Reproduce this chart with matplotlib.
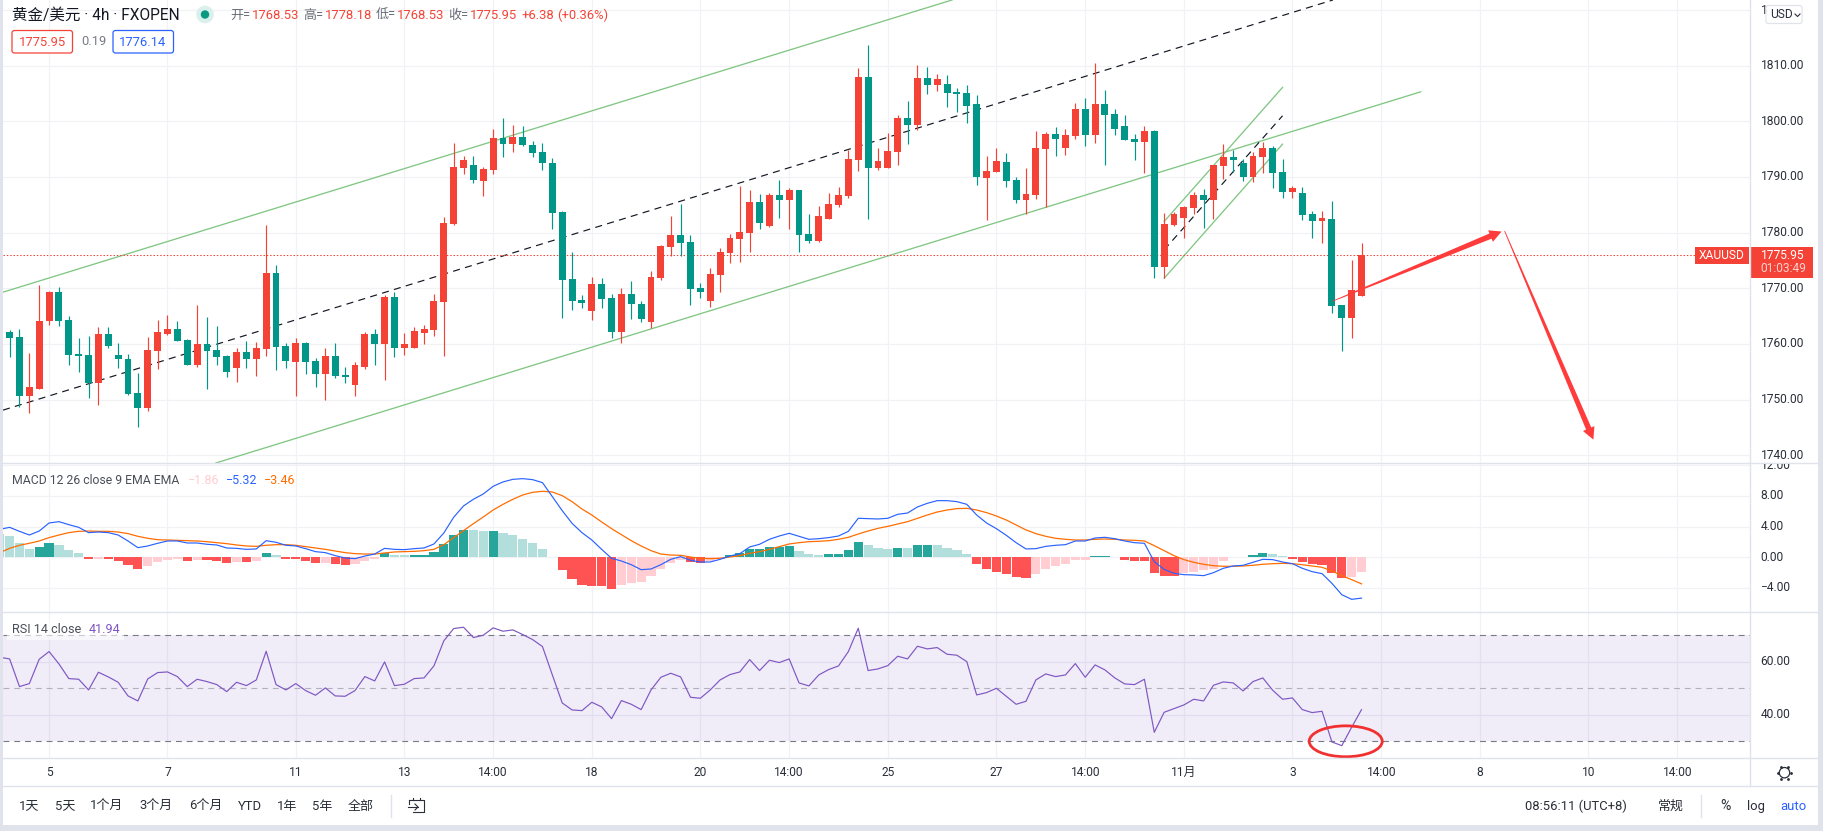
import matplotlib
matplotlib.use('Agg')
import matplotlib.patches as mpatches
import matplotlib.pyplot as plt
from matplotlib.transforms import Bbox, IdentityTransform
import numpy as np

plt.rcParams['font.family'] = ['Roboto', 'Noto Sans CJK SC', 'DejaVu Sans']

W, H = 1823, 831

# 4h candles
opens = [1761.25,1762.09,1761.2,1750.6,1751.85,1764.05,1769.3,1764.25,1758.1,1757.95,
         1752.9,1761.75,1757.95,1757.25,1751.1,1748.4,1758.65,1761.85,1762.65,1760.65,
         1756.3,1759.95,1758.85,1757.75,1755.6,1758.5,1757.25,1759.05,1772.7,1759.55,
         1756.7,1760.1,1756.9,1754.55,1757.75,1754.35,1752.7,1755.8,1761.75,1759.95,
         1768.4,1759.2,1759.2,1761.9,1762.45,1767.5,1781.55,1791.6,1792.15,1789.25,
         1791.25,1797.0,1795.9,1797.2,1795.75,1794.5,1792.5,1783.7,1771.65,1767.85,
         1765.85,1770.75,1768.2,1762.1,1768.95,1767.15,1763.9,1771.8,1777.4,1779.55,
         1778.3,1770.0,1767.65,1772.35,1776.3,1778.85,1779.9,1785.5,1781.15,1786.75,
         1785.85,1787.65,1779.75,1778.45,1782.45,1784.95,1786.55,1793.05,1808.0,1791.6,
         1791.6,1794.5,1800.6,1799.35,1807.8,1806.55,1806.75,1805.3,1805.1,1803.15,
         1789.8,1790.9,1792.7,1789.45,1785.85,1786.75,1795.05,1797.75,1795.2,1797.35,
         1802.25,1797.55,1803.15,1801.3,1799.15,1796.85,1796.3,1798.25,1773.8,1781.35,
         1782.6,1784.45,1786.75,1785.85,1792.0,1793.6,1792.5,1790.0,1793.6,1795.2,
         1790.9,1787.3,1787.1,1783.35,1782.05,1782.45,1766.95,1764.6,1768.53]
highs = [1762.15,1762.45,1762.6,1758.4,1770.55,1769.5,1770.2,1765.0,1761.0,1761.35,
         1763.0,1763.0,1760.1,1758.1,1754.7,1761.2,1764.25,1765.15,1764.05,1760.85,
         1766.95,1764.8,1763.15,1757.95,1759.2,1760.45,1760.3,1781.35,1774.15,1760.1,
         1761.0,1760.3,1757.4,1759.2,1760.1,1755.8,1756.7,1762.1,1762.65,1768.75,
         1769.3,1761.9,1763.0,1763.35,1768.95,1782.8,1796.1,1793.75,1793.75,1791.8,
         1798.65,1800.6,1799.35,1799.15,1796.45,1796.1,1793.4,1783.85,1776.5,1768.75,
         1772.0,1771.8,1768.95,1770.0,1771.25,1767.65,1773.05,1777.75,1782.95,1785.1,
         1779.55,1770.9,1773.6,1777.2,1779.75,1788.35,1787.65,1786.9,1787.1,1789.45,
         1788.0,1787.65,1783.35,1784.75,1787.1,1788.2,1794.85,1809.6,1813.75,1795.2,
         1797.9,1801.15,1803.7,1810.15,1809.8,1808.55,1808.35,1806.0,1806.55,1804.75,
         1793.75,1795.2,1794.3,1790.0,1791.6,1798.25,1798.1,1799.0,1798.65,1803.3,
         1804.2,1810.5,1805.65,1802.25,1801.15,1797.75,1799.15,1798.45,1783.5,1783.7,
         1784.75,1787.3,1787.85,1792.15,1795.9,1794.85,1793.25,1794.5,1796.3,1795.55,
         1793.25,1788.35,1788.2,1783.85,1783.85,1785.65,1766.95,1775.0,1778.18]
lows = [1761.25,1757.65,1748.65,1747.6,1751.85,1763.35,1763.2,1756.15,1754.9,1750.2,
        1748.95,1759.2,1755.6,1750.75,1745.15,1747.9,1755.45,1761.55,1760.45,1756.3,
        1755.85,1751.85,1756.15,1754.0,1753.1,1755.6,1754.15,1757.75,1755.25,1755.6,
        1750.55,1754.55,1752.2,1749.85,1753.8,1752.9,1750.55,1755.45,1756.15,1753.6,
        1757.6,1757.95,1759.2,1759.95,1761.35,1757.75,1781.35,1790.55,1788.9,1786.55,
        1790.55,1793.6,1794.5,1795.55,1793.6,1791.25,1780.65,1764.6,1766.05,1766.4,
        1764.25,1766.4,1761.0,1760.1,1764.45,1763.9,1762.8,1771.45,1775.75,1775.75,
        1766.95,1768.2,1766.6,1769.3,1774.5,1774.7,1776.5,1780.65,1781.0,1782.6,
        1780.65,1776.5,1778.1,1778.3,1782.45,1784.6,1786.2,1791.05,1782.45,1791.25,
        1791.6,1792.15,1795.9,1798.45,1804.95,1805.45,1802.6,1801.7,1799.7,1788.55,
        1782.25,1790.9,1788.2,1785.3,1783.35,1786.05,1784.6,1793.75,1793.95,1796.85,
        1795.55,1796.1,1792.15,1797.55,1796.65,1793.05,1790.7,1771.8,1771.8,1781.15,
        1779.0,1783.35,1780.8,1782.45,1789.65,1790.9,1789.25,1789.1,1790.7,1788.0,
        1786.2,1786.2,1782.25,1779.0,1778.1,1765.5,1758.65,1761.0,1768.53]
closes = [1762.15,1761.0,1750.6,1752.2,1764.05,1769.3,1764.05,1757.95,1757.75,1752.9,
          1761.75,1759.55,1757.25,1750.95,1748.4,1758.85,1762.1,1762.65,1760.45,1756.3,
          1759.95,1758.65,1757.6,1754.9,1758.5,1757.25,1759.2,1772.7,1759.4,1756.9,
          1760.1,1756.7,1754.55,1757.75,1754.15,1754.0,1756.15,1761.75,1759.95,1768.4,
          1759.2,1759.95,1762.25,1762.65,1767.65,1781.7,1791.8,1793.05,1789.45,1791.45,
          1797.0,1795.9,1797.2,1795.75,1794.3,1792.5,1783.5,1771.45,1767.65,1767.3,
          1770.75,1768.05,1762.1,1768.95,1767.15,1764.45,1772.0,1777.55,1779.55,1778.1,
          1769.85,1769.3,1772.5,1776.5,1779.0,1780.1,1785.5,1781.7,1786.75,1785.85,
          1787.65,1779.55,1778.45,1783.0,1785.15,1786.75,1793.25,1808.0,1791.6,1792.9,
          1794.65,1800.6,1799.35,1807.8,1806.55,1807.65,1805.1,1804.95,1802.75,1790.0,
          1791.05,1792.9,1789.25,1785.85,1786.95,1795.2,1797.75,1796.85,1797.55,1802.25,
          1797.55,1803.15,1801.15,1798.65,1796.65,1796.3,1798.25,1773.8,1781.55,1783.35,
          1784.6,1786.75,1785.85,1792.15,1793.6,1793.05,1790.0,1793.75,1795.2,1790.7,
          1787.3,1788.0,1783.15,1782.05,1782.6,1766.75,1764.6,1769.65,1775.95]

# MACD pane
macd_hist = [3.04,2.78,1.83,1.09,1.35,1.87,1.61,.96,.57,-.22,-.22,-.22,-.48,-1.0,-1.52,-1.13,-.61,-.35,-.22,-.48,
             -.35,-.35,-.48,-.74,-.61,-.61,-.48,.57,.3,-.22,-.22,-.48,-.74,-.74,-.87,-1.0,-.87,-.48,-.22,.57,
             .3,.3,.3,.3,.7,1.74,2.91,3.57,3.57,3.43,3.43,3.17,2.91,2.39,1.87,1.09,.04,-1.65,-2.83,-3.61,
             -3.74,-3.74,-4.13,-3.61,-3.35,-3.22,-2.43,-1.52,-.74,-.35,-.61,-.74,-.48,-.22,.3,.57,1.09,1.09,1.35,1.35,
             1.48,.83,.43,.3,.43,.43,.96,2.0,1.61,1.22,1.09,1.22,1.22,1.61,1.61,1.61,1.22,.96,.43,-.87,
             -1.52,-1.91,-2.17,-2.57,-2.7,-2.17,-1.52,-1.13,-.87,-.35,-.35,.17,.17,.04,-.35,-.48,-.48,-2.04,-2.43,-2.43,
             -2.04,-1.91,-1.65,-1.52,-.48,.04,.06,.3,.57,.43,.17,-.22,-.61,-.87,-1.0,-2.04,-2.7,-2.57,-1.86]
# d/l = green rising/falling, r/p = red falling/rising
hist_kind = ('llllddlllrprrrrppppr' 'prrrprpdlrrrrprrpppd' 'llddddddlldllllllrrr'
             'rrrppppppprrppdddddd' 'dlllddddllldlddllllr' 'rrrrrppppppddlrrrrrr'
             'pppppddddllrrrrrrpp')
macd_line = [3.65,3.91,3.39,2.91,3.43,4.48,4.65,4.26,3.91,3.22,3.3,3.22,2.91,2.13,1.26,1.48,1.83,2.13,2.13,1.87,
             1.87,1.7,1.61,1.22,1.17,1.04,1.09,2.17,1.96,1.57,1.48,1.13,.74,.61,.22,-.09,-.17,.17,.43,1.17,
             1.04,1.0,1.13,1.22,1.74,3.17,5.22,6.7,7.57,8.26,9.26,9.83,10.17,10.26,10.13,9.74,7.91,6.09,4.43,3.22,
             2.26,1.04,-.13,-.48,-.96,-1.61,-1.52,-.96,-.26,.09,-.39,-.61,-.61,-.26,.17,.48,1.35,1.7,2.35,2.78,
             3.13,2.74,2.35,2.43,2.57,2.78,3.39,5.09,5.04,5.0,5.09,5.61,5.78,6.57,7.04,7.39,7.39,7.26,6.91,5.52,
             4.48,3.74,2.87,1.91,1.09,1.13,1.43,1.57,1.65,2.13,2.13,2.52,2.61,2.43,2.13,1.91,1.83,-.57,-1.57,-2.09,
             -2.26,-2.3,-2.39,-2.0,-1.43,-1.13,-1.04,-.65,-.26,-.3,-.61,-.83,-1.43,-1.87,-2.13,-3.39,-4.87,-5.48,-5.32]
signal_line = [.61,1.17,1.57,1.83,2.13,2.57,2.91,3.22,3.39,3.43,3.39,3.39,3.3,3.09,2.74,2.48,2.3,2.26,2.22,2.17,
               2.13,2.04,1.91,1.78,1.61,1.48,1.43,1.57,1.65,1.65,1.57,1.39,1.22,1.04,.83,.61,.48,.43,.43,.57,
               .7,.74,.78,.87,1.04,1.65,2.57,3.48,4.39,5.26,6.17,6.91,7.57,8.13,8.48,8.61,8.52,8.04,7.26,6.3,
               5.52,4.61,3.74,2.96,2.17,1.48,.87,.43,.3,.26,.04,-.13,-.17,-.13,.04,.22,.52,.74,1.04,1.39,
               1.74,1.91,2.04,2.09,2.17,2.35,2.61,3.04,3.43,3.78,4.04,4.35,4.65,5.09,5.52,5.91,6.17,6.35,6.39,6.17,
               5.83,5.39,4.87,4.22,3.57,3.09,2.74,2.48,2.35,2.26,2.26,2.35,2.39,2.35,2.26,2.22,2.13,1.52,.87,.22,
               -.3,-.65,-.91,-1.09,-1.17,-1.17,-1.13,-1.04,-.91,-.83,-.78,-.83,-.96,-1.13,-1.3,-1.78,-2.39,-2.91,-3.46]

# RSI pane
rsi_line = [61.7,61.07,50.63,51.76,60.94,63.84,59.18,53.65,53.4,49.37,56.04,54.28,52.26,47.11,45.22,53.52,55.91,56.16,54.4,50.63,
            53.4,52.52,51.38,48.74,52.26,51.0,53.14,63.96,51.38,49.37,51.76,49.12,47.36,50.13,47.11,46.98,49.12,54.4,52.77,59.94,
            51.0,51.51,53.65,53.9,58.43,67.86,72.52,73.02,69.12,70.0,72.77,71.51,72.01,70.25,68.36,65.72,55.03,44.47,41.82,41.57,
            44.72,42.96,38.55,45.35,43.96,41.95,49.37,54.15,55.66,54.28,46.6,46.23,49.37,53.14,55.16,56.16,60.82,56.67,60.57,59.69,
            61.07,52.01,50.88,55.03,57.04,58.43,63.84,72.64,56.67,57.3,58.55,62.08,61.07,65.85,64.84,65.35,62.83,62.45,60.06,47.48,
            48.36,50.0,46.98,43.96,45.09,53.14,55.41,54.4,55.03,59.31,54.15,58.81,56.92,53.9,51.64,51.38,53.4,33.4,40.94,42.33,
            43.71,45.85,45.22,51.13,52.39,52.01,49.0,52.52,53.9,49.25,45.85,46.35,41.95,40.82,41.32,29.75,28.36,35.28,41.94]

# axis ticks
time_ticks = [5, 17, 30, 41, 50, 60, 71, 80, 90, 101, 110, 120, 131, 140, 150, 161, 170]
time_labels = ['5', '7', '11', '13', '14:00', '18', '20', '14:00', '25', '27', '14:00', '11月', '3', '14:00', '8', '10', '14:00']
price_ticks = [1820, 1810, 1800, 1790, 1780, 1770, 1760, 1750, 1740]
# the USD button hides all but the first digit of the top label
price_labels = ['1', '1810.00', '1800.00', '1790.00', '1780.00', '1770.00', '1760.00', '1750.00', '1740.00']
macd_ticks = [12, 8, 4, 0, -4]
rsi_ticks = [60, 40]

# drawings on the price pane, (bar index, price)
channel_upper = [(0.33, 1769.3), (96.5, 1821.8)]
channel_mid = [(0.33, 1748.1), (135.1, 1821.8)]
channel_lower = [(21.9, 1738.6), (144.0, 1805.3)]
flag_upper = [(118.0, 1782.0), (130.0, 1806.1)]
flag_mid = [(118.0, 1776.9), (130.0, 1801.0)]
flag_lower = [(118.0, 1771.8), (130.0, 1795.9)]
arrow_up = [(135.1, 1767.7), (152.2, 1780.2)]
arrow_down = [(152.5, 1780.3), (161.5, 1742.8)]

last_price = 1775.95

UP = '#f44336'
DOWN = '#009688'
GRID = '#f1f2f5'
SEP = '#e0e3eb'
TXT = '#2a2e39'
HIST_COL = {'d': '#26a69a', 'l': '#b2dfdb', 'r': '#ff5252', 'p': '#ffcdd2'}

fig = plt.figure(figsize=(W / 100, H / 100), dpi=100, facecolor='white')


def pane(top, bottom):
    ax = fig.add_axes([3 / W, 1 - bottom / H, (1750 - 3) / W, (bottom - top) / H])
    ax.set_xlim(0.33, 177.37)
    ax.set_xticks([])
    ax.set_yticks([])
    for s in ax.spines.values():
        s.set_visible(False)
    for t in time_ticks:
        ax.axvline(t, color=GRID, lw=0.85, zorder=0)
    return ax


ax_p = pane(0, 463)
ax_p.set_ylim(1738.6, 1821.8)
ax_m = pane(463, 612)
ax_m.set_ylim(-7.13, 12.3)
ax_r = pane(612, 758)
ax_r.set_ylim(23.7, 78.76)

x = np.arange(len(closes))

# price pane
for p in price_ticks:
    ax_p.axhline(p, color=GRID, lw=0.85, zorder=0)
for line in (channel_upper, channel_lower, flag_upper, flag_lower):
    ax_p.plot(*zip(*line), color='#81c784', lw=0.95, zorder=1)
for line in (channel_mid, flag_mid):
    ax_p.plot(*zip(*line), color='#131722', lw=0.85, ls=(0, (6, 4.5)), zorder=1)
ax_p.axhline(last_price, color=UP, lw=0.75, ls=(0, (1.4, 1.8)), zorder=2)

colors = [UP if c >= o else DOWN for o, c in zip(opens, closes)]
ax_p.vlines(x, lows, highs, colors=colors, lw=0.85, zorder=3)
ax_p.bar(x, np.abs(np.array(closes) - np.array(opens)), bottom=np.minimum(opens, closes),
         width=0.7, color=colors, lw=0, zorder=4)

# macd pane
for v in macd_ticks:
    ax_m.axhline(v, color=GRID, lw=0.85, zorder=0)
ax_m.bar(x, macd_hist, width=0.93, color=[HIST_COL[k] for k in hist_kind], lw=0, zorder=2)
ax_m.plot(x, signal_line, color='#ff6d00', lw=0.9, zorder=3)
ax_m.plot(x, macd_line, color='#2962ff', lw=0.85, zorder=4)

# rsi pane
for v in rsi_ticks:
    ax_r.axhline(v, color='#eeeef5', lw=0.85, zorder=0)
ax_r.axhspan(30, 70, color='#7e57c2', alpha=0.11, lw=0, zorder=1)
ax_r.axhline(70, color='#787b86', lw=0.8, ls=(0, (5.3, 4.4)), zorder=2)
ax_r.axhline(50, color='#b2b0bb', lw=0.8, ls=(0, (5.3, 4.4)), zorder=2)
ax_r.axhline(30, color='#787b86', lw=0.8, ls=(0, (5.3, 4.4)), zorder=2)
ax_r.plot(x, rsi_line, color='#7e57c2', lw=0.85, zorder=3)
ax_r.add_patch(mpatches.Ellipse((136.4, 30.0), 7.4, 11.65, fc='none', ec='#f23030', lw=2.0,
                                zorder=5, clip_on=False))

# chrome drawn in figure pixels
ov = fig.add_axes([0, 0, 1, 1], zorder=10)
ov.set_xlim(0, W)
ov.set_ylim(H, 0)
ov.axis('off')
ov.patch.set_alpha(0)


def arrow(line):
    # tapered arrow, thin at the start
    s, e = ax_p.transData.transform(line)
    u = (e - s) / np.hypot(*(e - s))
    n = np.array([-u[1], u[0]])
    b = e - u * 12
    pts = [s + n * 0.4, b + n * 2.8, b + n * 6.2, e, b - n * 6.2, b - n * 2.8, s - n * 0.4]
    ov.add_artist(mpatches.Polygon(pts, closed=True, fc='#ff3b3b', ec='none', transform=IdentityTransform()))


def label(px, py, s, size=12, color=TXT, ha='left', **kw):
    return ov.text(px, py, s, fontsize=size * 0.72, color=color, ha=ha, va='center', **kw)


def box(x0, y0, x1, y1, **kw):
    ov.add_patch(mpatches.Rectangle((x0, y0), x1 - x0, y1 - y0, **kw))


arrow(arrow_up)
arrow(arrow_down)

# separators and outer strips
for yy in (463, 612, 758, 786):
    ov.plot([3, 1818], [yy, yy], color=SEP, lw=1)
ov.plot([1750, 1750], [0, 786], color=SEP, lw=1)
box(0, 0, 3, H, fc=SEP, ec='none')
box(1818, 0, W, H, fc=SEP, ec='none')
box(0, 825, W, H, fc=SEP, ec='none')

# tick labels
for p, s in zip(price_ticks, price_labels):
    y_px = ax_p.transData.transform((0, p))[1]
    label(1760.5, H - y_px, s)
for v in macd_ticks:
    y_px = ax_m.transData.transform((0, v))[1]
    t = label(1760.5, H - y_px, ('%.2f' % v).replace('-', '−'))
    t.set_clip_box(Bbox([[1751, H - 612], [1818, H - 464]]))
    t.set_clip_on(True)
for v in rsi_ticks:
    y_px = ax_r.transData.transform((0, v))[1]
    label(1760.5, H - y_px, '%.2f' % v)
for t, s in zip(time_ticks, time_labels):
    x_px = ax_p.transData.transform((t, 1780))[0]
    label(x_px, 772, s, ha='center')

# last price tag
box(1694.7, 247, 1749, 264, fc=UP, ec='none')
box(1751, 247, 1813, 278, fc=UP, ec='none')
label(1722, 255.5, 'XAUUSD', color='white', ha='center')
label(1760.5, 255.5, '1775.95', color='white')
label(1760, 269, '01:03:49', color='#fbd0cd')

# USD button
ov.add_patch(mpatches.FancyBboxPatch((1766, 5.5), 36, 18, boxstyle='round,pad=0,rounding_size=2.5',
                                     fc='white', ec=SEP, lw=0.9, zorder=5))
label(1770, 15, 'USD', zorder=6)
ov.plot([1795, 1797.5, 1800], [14, 16.5, 14], color=TXT, lw=0.8, zorder=6)

# header
label(12, 15, '黄金/美元 · 4h · FXOPEN', size=15.5, color='#131722')
ov.add_patch(mpatches.Circle((205, 14.5), 8.8, fc='#daf0ec', ec='none'))
ov.add_patch(mpatches.Circle((205, 14.5), 4.2, fc='#089981', ec='none'))
for px_l, s_l, px_v, s_v in [(230, '开=', 252, '1768.53'), (303, '高=', 324.5, '1778.18'),
                             (376, '低=', 397, '1768.53'), (448.5, '收=', 470, '1775.95')]:
    label(px_l, 15.5, s_l, size=13, color='#6a6d78')
    label(px_v, 15.5, s_v, size=13, color=UP)
label(521, 15.5, '+6.38', size=13, color=UP)
label(557.5, 15.5, '(+0.36%)', size=13, color=UP)

ov.add_patch(mpatches.FancyBboxPatch((12, 30.5), 60.5, 22.5, boxstyle='round,pad=0,rounding_size=2.5',
                                     fc='white', ec=UP, lw=0.9))
label(42, 42, '1775.95', size=13, color=UP, ha='center')
label(81, 41.5, '0.19', size=13, color='#787b86')
ov.add_patch(mpatches.FancyBboxPatch((113, 30.5), 60.5, 22.5, boxstyle='round,pad=0,rounding_size=2.5',
                                     fc='white', ec='#2962ff', lw=0.9))
label(143, 42, '1776.14', size=13, color='#2962ff', ha='center')

# study legends
label(11.7, 481, 'MACD 12 26 close 9 EMA EMA', size=12.2, color='#4a4e59')
label(187.5, 481, '−1.86', size=12.5, color='#ffcdd2')
label(225.6, 481, '−5.32', size=12.5, color='#2962ff')
label(263.7, 481, '−3.46', size=12.5, color='#ff6d00')
box(7, 620, 124, 640, fc='white', ec='none', alpha=0.6)
label(11.7, 629.5, 'RSI 14 close', size=12.6, color='#4a4e59')
label(89, 629.5, '41.94', size=12.6, color='#7e57c2')

# bottom toolbar
for cx, s in [(29.5, '1天'), (65, '5天'), (107, '1个月'), (156, '3个月'), (206, '6个月'),
              (250, 'YTD'), (287.5, '1年'), (322.5, '5年'), (361, '全部')]:
    label(cx, 806.5, s, size=13, ha='center')
ov.plot([391, 391], [795, 817], color=SEP, lw=1)
ov.plot([409, 424, 424, 413], [800, 800, 812, 812], color=TXT, lw=0.8)
ov.plot([409, 409], [800, 804], color=TXT, lw=0.8)
ov.plot([413, 413], [797.5, 800], color=TXT, lw=0.8)
ov.plot([420, 420], [797.5, 800], color=TXT, lw=0.8)
ov.plot([408, 418], [807, 807], color=TXT, lw=0.8)
ov.plot([415, 418, 415], [804, 807, 810], color=TXT, lw=0.8)
label(1525, 806.5, '08:56:11 (UTC+8)', size=13)
label(1671, 806.5, '常规', size=13, ha='center')
ov.plot([1701, 1701], [795, 817], color=SEP, lw=1)
label(1725, 806.5, '%', size=14, ha='center')
label(1755.5, 806.5, 'log', size=13, ha='center')
label(1793, 806.5, 'auto', size=13, color='#2962ff', ha='center')

# settings icon on the time scale
ov.add_patch(mpatches.Circle((1784.5, 772.7), 5.2, fc='none', ec=TXT, lw=0.9))
ang = np.radians([0, 60, 120, 180, 240, 300])
ov.plot(1784.5 + 6.8 * np.cos(ang), 772.7 + 6.8 * np.sin(ang), ls='none', marker='.', ms=2, color=TXT)

fig.savefig('out.png', dpi=100)
